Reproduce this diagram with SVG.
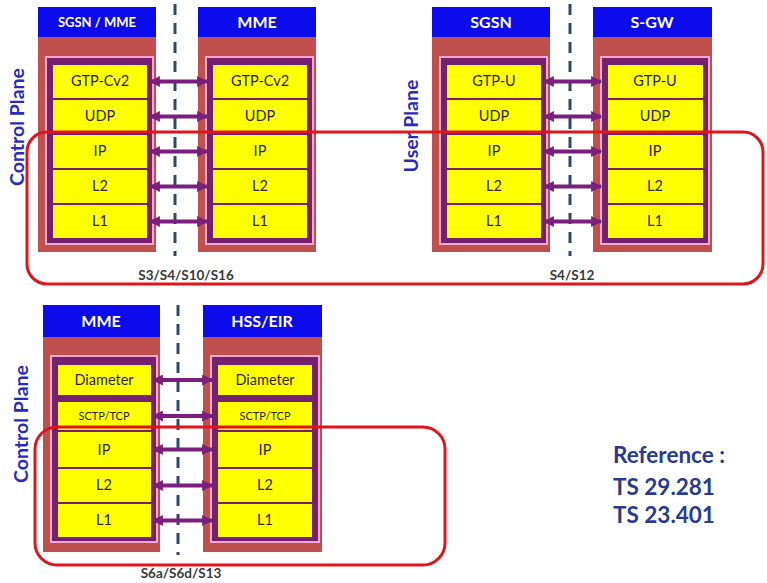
<svg xmlns="http://www.w3.org/2000/svg" width="767" height="583" viewBox="0 0 767 583">
<defs>
<style>
.hdr{fill:#0B0BEB}
.body{fill:#C0504D}
.pink{fill:#F3A9CF}
.purp{fill:#76206F}
.cell{fill:#FFFF00}
.ht{font-family:Lato,"Open Sans",sans-serif;font-weight:bold;fill:#FFFFFF;text-anchor:middle}
.ct{font-family:Lato,"Open Sans",sans-serif;font-size:14.5px;fill:#2E2416;text-anchor:middle}
.sm{font-size:11px}
.lbl{font-family:Lato,"Open Sans",sans-serif;font-weight:bold;font-size:13.5px;fill:#3A3A3A;text-anchor:middle}
.plane{font-family:Lato,"Open Sans",sans-serif;font-weight:bold;font-size:19.5px;fill:#2A2ABF;text-anchor:middle}
.ref{font-family:Lato,"Open Sans",sans-serif;font-weight:bold;font-size:22.5px;fill:#2B3A8F}
.dash{stroke:#2E4A6B;stroke-width:3;stroke-dasharray:11 8;fill:none}
.arr{stroke:#7A1F7E;stroke-width:4;fill:none;marker-start:url(#ah);marker-end:url(#ah)}
.red{fill:none;stroke:#E0141B;stroke-width:3}
</style>
<marker id="ah" viewBox="0 0 10 10" refX="9" refY="5" markerWidth="11" markerHeight="11" markerUnits="userSpaceOnUse" orient="auto-start-reverse">
<path d="M0,0 L10,5 L0,10 z" fill="#7A1F7E"/>
</marker>
</defs>
<rect width="767" height="583" fill="#FFFFFF"/>

<g id="separators">
<line class="dash" x1="175" y1="4" x2="175" y2="256"/>
<line class="dash" x1="570" y1="4" x2="570" y2="256"/>
<line class="dash" x1="178" y1="305" x2="178" y2="555"/>
</g>

<g id="node-sgsn-mme">
<rect class="hdr" x="38" y="7" width="118" height="30"/>
<text class="ht" x="97" y="27" font-size="13">SGSN / MME</text>
<rect class="body" x="38" y="37" width="118" height="215"/>
<rect class="pink" x="45" y="56" width="109" height="189"/>
<rect class="purp" x="47" y="58" width="105" height="185"/>
<rect class="cell" x="53" y="65" width="94" height="33"/>
<rect class="cell" x="53" y="100" width="94" height="33"/>
<rect class="cell" x="53" y="135" width="94" height="33"/>
<rect class="cell" x="53" y="170" width="94" height="33"/>
<rect class="cell" x="53" y="205" width="94" height="33"/>
<text class="ct" x="100" y="86">GTP-Cv2</text>
<text class="ct" x="100" y="121">UDP</text>
<text class="ct" x="100" y="156">IP</text>
<text class="ct" x="100" y="191">L2</text>
<text class="ct" x="100" y="226">L1</text>
</g>

<g id="node-mme-top">
<rect class="hdr" x="198" y="7" width="118" height="30"/>
<text class="ht" x="257" y="28" font-size="16">MME</text>
<rect class="body" x="198" y="37" width="118" height="215"/>
<rect class="pink" x="205" y="56" width="109" height="189"/>
<rect class="purp" x="207" y="58" width="105" height="185"/>
<rect class="cell" x="213" y="65" width="94" height="33"/>
<rect class="cell" x="213" y="100" width="94" height="33"/>
<rect class="cell" x="213" y="135" width="94" height="33"/>
<rect class="cell" x="213" y="170" width="94" height="33"/>
<rect class="cell" x="213" y="205" width="94" height="33"/>
<text class="ct" x="260" y="86">GTP-Cv2</text>
<text class="ct" x="260" y="121">UDP</text>
<text class="ct" x="260" y="156">IP</text>
<text class="ct" x="260" y="191">L2</text>
<text class="ct" x="260" y="226">L1</text>
</g>

<g id="node-sgsn">
<rect class="hdr" x="432" y="7" width="118" height="30"/>
<text class="ht" x="491" y="28" font-size="16">SGSN</text>
<rect class="body" x="432" y="37" width="118" height="215"/>
<rect class="pink" x="439" y="56" width="109" height="189"/>
<rect class="purp" x="441" y="58" width="105" height="185"/>
<rect class="cell" x="447" y="65" width="94" height="33"/>
<rect class="cell" x="447" y="100" width="94" height="33"/>
<rect class="cell" x="447" y="135" width="94" height="33"/>
<rect class="cell" x="447" y="170" width="94" height="33"/>
<rect class="cell" x="447" y="205" width="94" height="33"/>
<text class="ct" x="494" y="86">GTP-U</text>
<text class="ct" x="494" y="121">UDP</text>
<text class="ct" x="494" y="156">IP</text>
<text class="ct" x="494" y="191">L2</text>
<text class="ct" x="494" y="226">L1</text>
</g>

<g id="node-sgw">
<rect class="hdr" x="593" y="7" width="119" height="30"/>
<text class="ht" x="652" y="28" font-size="16">S-GW</text>
<rect class="body" x="593" y="37" width="119" height="215"/>
<rect class="pink" x="600" y="56" width="110" height="189"/>
<rect class="purp" x="602" y="58" width="106" height="185"/>
<rect class="cell" x="608" y="65" width="95" height="33"/>
<rect class="cell" x="608" y="100" width="95" height="33"/>
<rect class="cell" x="608" y="135" width="95" height="33"/>
<rect class="cell" x="608" y="170" width="95" height="33"/>
<rect class="cell" x="608" y="205" width="95" height="33"/>
<text class="ct" x="655" y="86">GTP-U</text>
<text class="ct" x="655" y="121">UDP</text>
<text class="ct" x="655" y="156">IP</text>
<text class="ct" x="655" y="191">L2</text>
<text class="ct" x="655" y="226">L1</text>
</g>

<g id="node-mme-bottom">
<rect class="hdr" x="43" y="305" width="117" height="32"/>
<text class="ht" x="101" y="327" font-size="16">MME</text>
<rect class="body" x="43" y="337" width="117" height="215"/>
<rect class="pink" x="50" y="355" width="108" height="188"/>
<rect class="purp" x="52" y="357" width="104" height="184"/>
<rect class="cell" x="58" y="365" width="93" height="30"/>
<rect class="cell" x="58" y="402" width="93" height="28"/>
<rect class="cell" x="58" y="432" width="93" height="35"/>
<rect class="cell" x="58" y="469" width="93" height="33"/>
<rect class="cell" x="58" y="504" width="93" height="33"/>
<text class="ct" x="104" y="385">Diameter</text>
<text class="ct sm" x="104" y="420">SCTP/TCP</text>
<text class="ct" x="104" y="455">IP</text>
<text class="ct" x="104" y="490">L2</text>
<text class="ct" x="104" y="525">L1</text>
</g>

<g id="node-hss-eir">
<rect class="hdr" x="203" y="305" width="119" height="32"/>
<text class="ht" x="262" y="327" font-size="16">HSS/EIR</text>
<rect class="body" x="203" y="337" width="119" height="215"/>
<rect class="pink" x="210" y="355" width="110" height="188"/>
<rect class="purp" x="212" y="357" width="106" height="184"/>
<rect class="cell" x="218" y="365" width="94" height="30"/>
<rect class="cell" x="218" y="402" width="94" height="28"/>
<rect class="cell" x="218" y="432" width="94" height="35"/>
<rect class="cell" x="218" y="469" width="94" height="33"/>
<rect class="cell" x="218" y="504" width="94" height="33"/>
<text class="ct" x="265" y="385">Diameter</text>
<text class="ct sm" x="265" y="420">SCTP/TCP</text>
<text class="ct" x="265" y="455">IP</text>
<text class="ct" x="265" y="490">L2</text>
<text class="ct" x="265" y="525">L1</text>
</g>

<g id="connectors">
<line class="arr" x1="150" y1="81.5" x2="207" y2="81.5"/>
<line class="arr" x1="150" y1="116.5" x2="207" y2="116.5"/>
<line class="arr" x1="150" y1="151.5" x2="207" y2="151.5"/>
<line class="arr" x1="150" y1="186.5" x2="207" y2="186.5"/>
<line class="arr" x1="150" y1="221.5" x2="207" y2="221.5"/>
<line class="arr" x1="544" y1="81.5" x2="601" y2="81.5"/>
<line class="arr" x1="544" y1="116.5" x2="601" y2="116.5"/>
<line class="arr" x1="544" y1="151.5" x2="601" y2="151.5"/>
<line class="arr" x1="544" y1="186.5" x2="601" y2="186.5"/>
<line class="arr" x1="544" y1="221.5" x2="601" y2="221.5"/>
<line class="arr" x1="153" y1="380" x2="212" y2="380"/>
<line class="arr" x1="153" y1="416" x2="212" y2="416"/>
<line class="arr" x1="153" y1="449.5" x2="212" y2="449.5"/>
<line class="arr" x1="153" y1="485.5" x2="212" y2="485.5"/>
<line class="arr" x1="153" y1="520.5" x2="212" y2="520.5"/>
</g>

<g id="labels">
<text class="plane" transform="translate(24,127) rotate(-90)">Control Plane</text>
<text class="plane" transform="translate(418,126) rotate(-90)">User Plane</text>
<text class="plane" transform="translate(28,424) rotate(-90)">Control Plane</text>
<text class="lbl" x="186" y="280">S3/S4/S10/S16</text>
<text class="lbl" x="572" y="280">S4/S12</text>
<text class="lbl" x="181" y="578">S6a/S6d/S13</text>
<text class="ref" x="613" y="463">Reference :</text>
<text class="ref" x="613" y="495">TS 29.281</text>
<text class="ref" x="613" y="523">TS 23.401</text>
</g>

<g id="highlights">
<rect class="red" x="27" y="132" width="736" height="152" rx="20" ry="20"/>
<rect class="red" x="35" y="427" width="410" height="138" rx="22" ry="22"/>
</g>
</svg>
